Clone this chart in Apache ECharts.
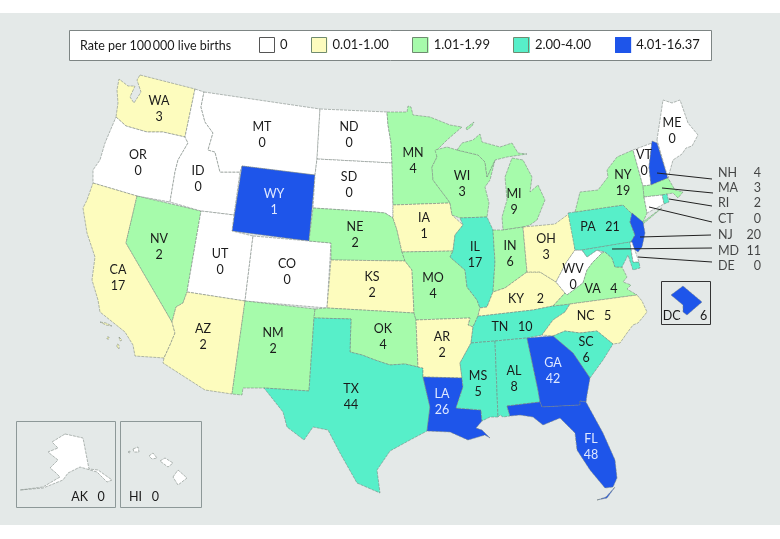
<!DOCTYPE html>
<html><head><meta charset="utf-8">
<style>html,body{margin:0;padding:0;background:#fff}#c{width:780px;height:539px}</style>
<script src="https://cdn.jsdelivr.net/npm/echarts@6/dist/echarts.min.js"></script>
</head><body><div id="c"></div>
<script>
const FONT = 'Lato';
const MAPFONT = 'Lato';
// ---- data ----
const stateCodes = ['WA','OR','CA','NV','ID','MT','WY','UT','AZ','CO','NM','ND','SD','NE','KS','OK','TX','MN','IA','MO','AR','LA','WI','IL','MI','IN','KY','TN','MS','AL','OH','WV','VA','NC','SC','GA','FL','PA','NY','VT','NH','ME','MA','RI','CT','NJ','MD','DE','DC','AK','HI'];
const stateCounts = [3,0,17,2,0,0,1,0,2,0,2,0,0,2,2,4,44,4,1,4,2,26,3,17,9,6,2,10,5,8,3,0,4,5,6,42,48,21,19,0,4,0,3,2,0,20,11,0,6,0,0];
// rate class of each state: index into rateLabels
const stateBins =   [1,0,1,2,0,0,4,0,1,0,2,0,0,2,1,2,3,2,1,2,1,4,2,3,2,2,1,3,3,3,1,0,2,1,3,4,4,3,2,0,4,0,2,3,0,4,3,0,4,0,0];
const rateLabels = ['0','0.01-1.00','1.01-1.99','2.00-4.00','4.01-16.37'];
const rateColors = ['#ffffff','#fdfcbe','#a6fbab','#57efc9','#1e55ea'];
const legendTitle = 'Rate per 100\u2009000 live births';
const calloutStates = ['NH','MA','RI','CT','NJ','MD','DE'];
const singleLineGap = {PA:'   ',TN:'   ',KY:'    ',VA:'   ',NC:'   ',DC:'      ',AK:'   ',HI:'   '};

// ---- geometry (outline drawn in the picture's own plane) ----
const shapes = {
WA:[[[140,75],[195,89],[185,137],[163,132],[147,132],[126,126],[116,117],[118,103],[117,90],[119,79],[128,86],[135,86],[130,97],[134,103],[141,92],[137,80]]],
OR:[[[116,117],[126,126],[147,132],[163,132],[185,137],[188,143],[178,160],[175,172],[170,202],[137,196],[93,183],[93,170],[100,160],[105,143]]],
CA:[[[93,183],[137,196],[126,243],[172,322],[175,333],[170,345],[164,358],[135,356],[133,345],[125,332],[100,312],[98,300],[92,280],[95,257],[87,233],[83,208],[87,200]],[[100,322],[106,323],[112,326],[106,325]],[[107,337],[109,337],[109,339],[107,339]],[[119,337],[122,340],[120,341]],[[117,344],[119,345],[119,349],[117,347]]],
NV:[[[137,196],[201,211],[187,292],[183,303],[176,307],[172,322],[126,243]]],
ID:[[[195,89],[204,92],[201,107],[205,122],[213,133],[208,150],[215,152],[220,172],[240,172],[234,215],[201,211],[170,202],[175,172],[178,160],[188,143],[185,137]]],
MT:[[[204,92],[320,109],[317,159],[315,175],[242,166],[240,172],[220,172],[215,152],[208,150],[213,133],[205,122],[201,107]]],
WY:[[[242,166],[315,175],[309,241],[232,231]]],
UT:[[[201,211],[234,215],[232,231],[253,236],[245,301],[187,292]]],
AZ:[[[187,292],[245,301],[232,394],[205,390],[163,363],[164,358],[170,345],[175,333],[172,322],[176,307],[183,303]]],
CO:[[[253,236],[309,241],[331,243],[327,308],[245,301]]],
NM:[[[245,301],[315,309],[314,318],[309,391],[264,388],[243,388],[242,395],[232,394]]],
ND:[[[320,109],[387,112],[388,125],[391,143],[392,163],[317,159]]],
SD:[[[317,159],[392,163],[393,205],[393,218],[385,213],[375,212],[313,208],[315,175]]],
NE:[[[313,208],[375,212],[385,213],[393,218],[397,230],[402,252],[405,261],[331,260],[331,243],[309,241]]],
KS:[[[331,260],[405,261],[412,270],[414,313],[327,308]]],
OK:[[[315,309],[327,308],[414,313],[416,320],[418,367],[405,364],[390,365],[375,360],[362,355],[350,352],[351,319],[314,318]]],
TX:[[[314,318],[351,319],[350,352],[362,355],[375,360],[390,365],[405,364],[418,367],[423,368],[423,377],[430,407],[427,431],[410,440],[390,451],[377,470],[380,493],[357,483],[340,453],[328,430],[313,427],[304,440],[287,427],[283,412],[264,388],[309,391]]],
MN:[[[387,112],[407,112],[408,106],[411,107],[413,115],[430,117],[450,125],[462,127],[447,140],[437,150],[437,157],[432,167],[433,180],[448,200],[450,203],[393,205],[392,163],[391,143],[388,125]]],
IA:[[[393,205],[450,203],[452,215],[463,225],[455,235],[453,251],[402,252],[397,230],[393,218]]],
MO:[[[402,252],[453,251],[450,257],[465,270],[467,287],[477,300],[480,308],[478,316],[473,327],[468,325],[470,318],[416,320],[414,313],[412,270],[405,261]]],
AR:[[[416,320],[470,318],[468,325],[473,327],[471,343],[460,363],[462,378],[423,377],[423,368],[418,367]]],
LA:[[[423,377],[462,378],[463,387],[456,408],[481,410],[482,421],[476,428],[482,430],[490,438],[485,435],[468,440],[450,432],[427,431],[430,407]]],
WI:[[[437,157],[435,150],[447,147],[457,150],[478,155],[485,162],[487,177],[495,160],[490,180],[485,187],[489,203],[487,217],[460,218],[452,215],[450,203],[448,200],[433,180],[432,167]]],
IL:[[[460,218],[487,217],[493,230],[495,262],[493,292],[487,307],[480,308],[477,300],[467,287],[465,270],[450,257],[453,251],[455,235],[463,225]]],
MI:[[[512,158],[523,160],[532,177],[530,192],[538,185],[545,200],[537,220],[530,225],[523,227],[503,230],[502,217],[507,200],[505,177]],[[457,150],[462,143],[473,140],[480,134],[482,142],[500,147],[512,143],[518,153],[527,154],[507,157],[495,160],[487,177],[485,162],[478,155]],[[466,128],[474,122],[472,126],[467,130]]],
IN:[[[493,230],[503,230],[523,227],[527,272],[505,288],[493,292],[495,262]]],
OH:[[[523,227],[545,225],[555,224],[570,213],[574,240],[575,250],[566,263],[556,282],[540,272],[527,272]]],
KY:[[[527,272],[540,272],[556,282],[565,293],[553,306],[533,310],[481,316],[478,316],[480,308],[487,307],[493,292],[505,288]]],
TN:[[[478,316],[481,316],[533,310],[553,306],[570,304],[565,312],[553,320],[542,335],[527,338],[495,341],[471,343],[473,327]]],
MS:[[[471,343],[495,341],[498,417],[490,417],[482,421],[481,410],[456,408],[463,387],[462,378],[460,363]]],
AL:[[[495,341],[527,338],[538,390],[540,402],[507,406],[510,416],[503,417],[500,415],[498,417]]],
GA:[[[527,338],[553,336],[573,353],[590,378],[587,395],[586,402],[580,401],[580,405],[542,407],[540,402],[538,390]]],
FL:[[[507,406],[540,402],[542,407],[580,405],[580,401],[586,402],[603,433],[615,460],[617,478],[613,487],[605,488],[590,470],[577,450],[575,433],[560,418],[543,425],[533,417],[520,415],[510,416]],[[597,500],[606,497],[615,487],[607,498]]],
SC:[[[553,336],[565,331],[580,333],[597,331],[613,344],[603,360],[590,378],[573,353]]],
NC:[[[570,304],[637,295],[642,301],[647,312],[643,317],[638,323],[633,325],[627,333],[620,343],[613,344],[597,331],[580,333],[565,331],[553,336],[542,335],[553,320],[565,312]]],
VA:[[[553,306],[565,293],[567,295],[583,283],[587,270],[593,262],[602,253],[605,252],[612,258],[615,267],[622,267],[627,277],[623,282],[631,285],[627,289],[637,295],[570,304]]],
WV:[[[556,282],[566,263],[575,250],[582,250],[587,257],[597,250],[602,253],[593,262],[587,270],[583,283],[567,295],[565,293]]],
MD:[[[582,250],[630,242],[633,262],[639,262],[640,268],[633,270],[628,255],[622,267],[615,267],[612,258],[605,252],[597,250],[587,257]]],
DE:[[[630,242],[632,242],[639,262],[633,262]]],
PA:[[[568,213],[575,212],[623,205],[630,212],[632,213],[630,222],[635,235],[631,242],[582,250],[575,250]]],
NJ:[[[632,213],[643,222],[645,233],[642,247],[638,252],[631,247],[631,242],[635,235],[630,222]]],
NY:[[[575,212],[580,192],[598,190],[608,177],[607,170],[617,157],[633,150],[643,186],[644,197],[647,213],[643,222],[660,209],[662,208],[643,224],[632,213],[630,212],[623,205]]],
VT:[[[633,150],[652,143],[649,167],[651,185],[643,186]]],
NH:[[[652,141],[657,143],[668,178],[651,185],[649,167]]],
ME:[[[657,140],[663,100],[672,103],[680,100],[688,123],[698,135],[692,146],[686,148],[682,154],[673,160],[668,178]]],
MA:[[[643,186],[651,185],[668,178],[675,190],[683,192],[678,198],[673,193],[662,195],[644,197]]],
CT:[[[644,197],[662,195],[664,204],[647,213]]],
RI:[[[662,195],[667,194],[669,202],[664,204]]],
DC:[[[671,295],[683,286],[702,302],[687,315],[683,312],[683,305]]],
AK:[[[65,434],[83,438],[89,469],[98,470],[112,480],[107,482],[97,472],[80,467],[68,473],[63,480],[43,488],[20,490],[43,487],[60,477],[55,472],[50,468],[58,460],[48,452],[58,448],[52,442]]],
HI:[[[173,477],[178,470],[187,478],[178,485]],[[160,461],[165,458],[173,463],[168,467]],[[149,456],[153,453],[157,458],[152,459]],[[133,449],[138,447],[139,452],[134,452]],[[128,452],[130,451],[130,453]]]
};
const labelAnchors = {WA:[159,109],OR:[138,163],CA:[118,278],NV:[159,247],ID:[198,179],MT:[262,135],WY:[274,202],UT:[220,262],AZ:[203,337],CO:[287,272],NM:[273,341],ND:[349,135],SD:[349,185],NE:[355,235],KS:[372,285],OK:[383,337],TX:[351,397],MN:[413,161],IA:[424,226],MO:[433,286],AR:[442,345],LA:[442,402],WI:[462,184],IL:[475,255],MI:[514,202],IN:[510,254],KY:[526,299],TN:[512,327],MS:[478,384],AL:[514,379],OH:[546,247],WV:[573,277],VA:[601,289],NC:[594,316],SC:[586,350],GA:[553,371],FL:[591,447],PA:[600,227],NY:[623,183],VT:[644,163],ME:[672,131],DC:[685,316],AK:[88,497],HI:[144,497]};
const calloutFrom = {NH:[657,173],MA:[662,188],RI:[669,199],CT:[649,207],NJ:[640,237],MD:[612,249],DE:[638,257]};
const calloutTo = {NH:[712,179],MA:[713,193],RI:[712,206],CT:[712,222],NJ:[711,235],MD:[712,248],DE:[712,262]};
const calloutNameAt = {NH:[718,173],MA:[718,188],RI:[718,203],CT:[718,219],NJ:[718,235],MD:[718,251],DE:[718,266]};
const calloutCountAt = 761;

// ---- build ----
const features = stateCodes.map(c => ({type:'Feature',
  properties:{name:c, cp:labelAnchors[c]||shapes[c][0][0]},
  geometry:{type:'MultiPolygon',coordinates:shapes[c].map(r=>[r.concat([r[0]])])}}));
echarts.registerMap('usPlain',{type:'FeatureCollection',features});

const identity = {project:p=>p, unproject:p=>p};
const frame = {left:0,top:0,width:780,height:539,boundingCoords:[[0,0],[780,539]],projection:identity,roam:false,silent:true};
const dark = '#1a1a1a';
const chart = echarts.init(document.getElementById('c'),null,{renderer:'canvas'});
const rect = (x,y,w,h,fill,stroke,z,lw) => ({type:'rect',silent:true,z,shape:{x:x+.5,y:y+.5,width:w,height:h},style:{fill,stroke,lineWidth:lw||1}});
const BG = '#e4e9e8';
const swatchX = [259,311,412,513,615];

chart.setOption({
  animation:false,
  backgroundColor:'#ffffff',
  graphic:[
    {type:'rect',silent:true,z:-5,shape:{x:0,y:13,width:780,height:512},style:{fill:BG}},
    rect(69,30,642,30,'#ffffff','#7d8584',-4,1),
    rect(16,421,99,86,BG,'#8d9898',-4,1),
    rect(120,421,81,86,BG,'#8d9898',-4,1),
    rect(661,281,49,43,BG,'#333333',-4,1),
    {type:'text',silent:true,z:5,x:80,y:45.5,style:{text:legendTitle,font:'12.5px '+FONT,fill:dark,verticalAlign:'middle'}}
  ].concat(swatchX.map((x,i)=>rect(x,37,15,15,'transparent',i==0?'#555':(i==4?'#1e55ea':'#6f8a70'),6,1))),
  visualMap:{
    type:'piecewise',seriesIndex:0,dimension:'value',orient:'horizontal',
    left:259,top:37,itemWidth:16,itemHeight:16,itemGap:24,textGap:5,padding:0,
    hoverLink:false,selectedMode:false,itemSymbol:'rect',
    textStyle:{fontFamily:FONT,fontSize:13,color:dark},
    pieces:rateLabels.map((l,i)=>({value:i,label:l,color:rateColors[i]}))
  },
  geo:Object.assign({map:'usPlain',show:true,silent:true,z:0,
    itemStyle:{areaColor:'transparent',borderColor:'transparent',borderWidth:0},
    emphasis:{disabled:true},select:{disabled:true},label:{show:false}},frame),
  series:[
    Object.assign({type:'map',map:'usPlain',z:2,
      itemStyle:{borderColor:'#76817a',borderWidth:0.55,borderType:[3,1]},
      emphasis:{disabled:true},select:{disabled:true},
      label:{show:true,fontFamily:MAPFONT,fontSize:12.5,lineHeight:15.5,color:dark,
        formatter:p=>{const g=singleLineGap[p.name];return p.name+(g||'\n')+p.data.count;}},
      data:stateCodes.map((c,i)=>({name:c,value:stateBins[i],count:stateCounts[i],
        label:{show:!calloutStates.includes(c),color:stateBins[i]===4&&c!=='DC'?'#dfe8ff':dark}}))
    },frame),
    {type:'lines',coordinateSystem:'geo',geoIndex:0,z:5,silent:true,symbol:'none',
      lineStyle:{color:'#222',width:1,opacity:1,curveness:0},
      data:calloutStates.map(c=>({coords:[calloutFrom[c],calloutTo[c]]}))},
    {type:'scatter',coordinateSystem:'geo',geoIndex:0,z:6,silent:true,symbolSize:0,
      label:{show:true,position:'inside',align:'left',verticalAlign:'middle',fontFamily:MAPFONT,fontSize:12.5,color:dark,formatter:p=>p.data.name},
      data:calloutStates.map(c=>({name:c,value:calloutNameAt[c]}))},
    {type:'scatter',coordinateSystem:'geo',geoIndex:0,z:6,silent:true,symbolSize:0,
      label:{show:true,position:'inside',align:'right',verticalAlign:'middle',fontFamily:MAPFONT,fontSize:12.5,color:dark,formatter:p=>String(p.data.count)},
      data:calloutStates.map(c=>({name:c,count:stateCounts[stateCodes.indexOf(c)],value:[calloutCountAt,calloutNameAt[c][1]]}))}
  ]
});
</script></body></html>
